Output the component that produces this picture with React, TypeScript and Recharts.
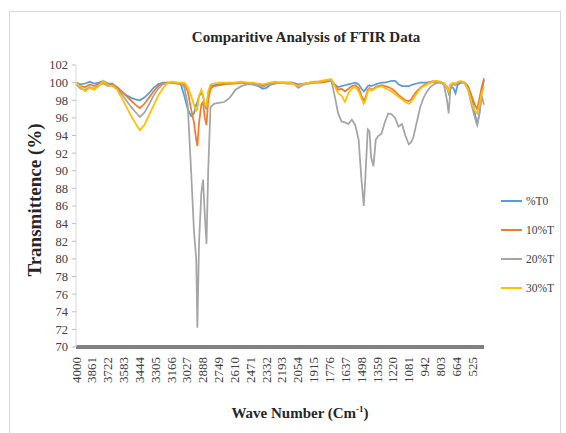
import React from 'react';
import { LineChart, Line, XAxis, YAxis, Legend } from 'recharts';

// Wavenumbers (cm^-1), descending
const wavenumbers = [
  4000, 3960, 3920, 3880, 3840, 3800, 3760, 3720,
  3680, 3640, 3600, 3560, 3520, 3480, 3440, 3400,
  3360, 3320, 3280, 3240, 3200, 3160, 3120, 3080,
  3050, 3020, 2990, 2965, 2945, 2935, 2920, 2900,
  2885, 2870, 2855, 2840, 2820, 2790, 2750, 2700,
  2650, 2600, 2550, 2500, 2450, 2400, 2360, 2330,
  2300, 2250, 2200, 2150, 2100, 2050, 2000, 1950,
  1900, 1850, 1800, 1760, 1730, 1700, 1670, 1640,
  1610, 1580, 1550, 1520, 1495, 1475, 1460, 1440,
  1425, 1410, 1390, 1370, 1350, 1320, 1290, 1260,
  1230, 1200, 1170, 1140, 1110, 1080, 1060, 1040,
  1010, 980, 950, 920, 890, 860, 830, 800,
  770, 745, 730, 715, 690, 670, 650, 620,
  590, 560, 530, 500, 480, 460, 440, 420,
];

const t0 = [
  100, 99.8, 99.9, 100.1, 99.9, 100, 100.2, 99.9,
  99.9, 99.4, 99.0, 98.6, 98.3, 98.1, 98.0, 98.3,
  98.8, 99.4, 99.8, 100, 100, 100, 100, 99.8,
  98.5, 97, 96.2, 96.5, 97.5, 97.8, 98.5, 98.8,
  98.5, 97.5, 97, 98.8, 99.6, 99.7, 99.8, 99.9,
  99.9, 100, 100, 99.9, 99.8, 99.6, 99.3, 99.4,
  99.7, 99.9, 100, 100, 100, 99.8, 99.9, 100,
  100, 100.1, 100.2, 100.3, 99.8, 99.5, 99.6, 99.7,
  99.8, 99.9, 100, 99.8, 99.3, 99.0, 99.2, 99.6,
  99.7, 99.6, 99.7, 99.8, 99.9, 100, 100, 100.1,
  100.2, 100.2, 99.8, 99.6, 99.6, 99.6, 99.7, 99.8,
  99.9, 100, 100, 100, 100.1, 100.2, 100.1, 100,
  99.8, 99.4, 98.8, 99.6, 99.4, 98.8, 99.8, 100,
  100, 99.6, 98.5, 96.5, 95.2, 96.5, 99.0, 100.3,
];

const t10 = [
  100, 99.6, 99.5, 99.8, 99.6, 99.9, 100.1, 99.8,
  99.8, 99.5, 99.0, 98.5, 98.0, 97.5, 97.1, 97.6,
  98.3, 99.0, 99.6, 99.9, 100, 100, 99.9, 99.9,
  99.8, 99, 97, 95.5, 93.5, 92.8, 95.5, 97.5,
  97.8, 96, 95.2, 98, 99.3, 99.6, 99.7, 99.8,
  99.9, 99.9, 100, 100, 99.9, 99.8, 99.7, 99.8,
  99.9, 100, 100, 99.9, 99.9, 99.6, 99.8, 99.9,
  100, 100, 100.1, 100.2, 99.7, 99.2, 99.3, 99.0,
  99.3, 99.6, 99.7, 99.4, 98.5, 98.0, 98.3, 99.2,
  99.4, 99.2, 99.3, 99.5, 99.6, 99.7, 99.6, 99.5,
  99.3, 99.0, 98.6, 98.3, 98.0, 97.9, 98.1, 98.5,
  99.0, 99.4, 99.7, 99.9, 100, 100.1, 100, 100,
  99.9, 99.5, 99.2, 99.7, 99.9, 99.8, 100, 100.1,
  100, 99.5, 98.5, 97.5, 97.0, 98.2, 99.5, 100.5,
];

const t20 = [
  99.8, 99.3, 99.2, 99.5, 99.3, 99.7, 99.9, 99.6,
  99.7, 99.3, 98.7, 98.0, 97.3, 96.7, 96.1, 96.6,
  97.5, 98.5, 99.3, 99.8, 99.9, 100, 100, 99.9,
  99.5, 97.5, 90, 83.2, 80, 72.2, 82, 87.5,
  89, 85, 81.7, 90, 97.2, 97.6, 97.7, 97.8,
  98.3, 99.2, 99.6, 99.8, 99.8, 99.7, 99.5, 99.7,
  99.8, 99.9, 100, 100, 100, 99.4, 99.8, 100,
  100.1, 100.1, 100.3, 100.2, 98.5, 96.5, 95.6, 95.5,
  95.3, 95.8, 95.2, 93.5, 89, 86.0, 89.5, 94.7,
  94.5, 91.5, 90.5, 93.5, 93.9, 94.2, 95.5, 96.5,
  96.4, 96.0, 95.0, 95.3, 94.0, 93.0, 93.2, 93.8,
  95.5, 97.2, 98.3, 99.0, 99.5, 99.8, 100, 100.1,
  99.7, 98, 96.5, 99.2, 99.9, 99.7, 100, 100.1,
  99.9, 99.2, 97.5, 96.0, 95.2, 96.5, 98.5, 97.5,
];

const t30 = [
  100, 99.5, 99.0, 99.4, 99.2, 99.6, 100.2, 99.7,
  99.6, 99.2, 98.3, 97.3, 96.3, 95.4, 94.6, 95.2,
  96.3, 97.4, 98.5, 99.3, 99.9, 100.1, 100, 100,
  100, 99.5, 98.5, 97.5, 96.8, 97, 98.5, 99.2,
  98.5, 97.5, 97.3, 99, 99.8, 99.9, 100, 100,
  100, 100, 100.1, 100, 100, 99.9, 99.8, 99.9,
  100, 100.1, 100, 100, 99.9, 99.6, 99.9, 100,
  100, 100.2, 100.3, 100.4, 99.6, 98.8, 98.5, 97.8,
  98.8, 99.3, 99.5, 99.0, 98.2, 97.6, 98.0, 99.0,
  99.3, 99.1, 99.2, 99.4, 99.5, 99.6, 99.4, 99.2,
  99.0, 98.7, 98.4, 98.1, 97.8, 97.6, 97.8, 98.2,
  98.8, 99.3, 99.6, 99.8, 100, 100.2, 100.2, 100.1,
  99.9, 99.4, 99.0, 99.8, 100, 99.9, 100.1, 100.2,
  100, 99.2, 97.8, 96.8, 96.5, 97.5, 98.8, 99.5,
];

const xTicks = [
  4000, 3861, 3722, 3583, 3444, 3305, 3166, 3027, 2888, 2749, 2610, 2471, 2332,
  2193, 2054, 1915, 1776, 1637, 1498, 1359, 1220, 1081, 942, 803, 664, 525,
];
const yTicks = [70, 72, 74, 76, 78, 80, 82, 84, 86, 88, 90, 92, 94, 96, 98, 100, 102];

const seriesKeys = ['t0', 't10', 't20', 't30'];
const seriesNames = ['%T0', '10%T', '20%T', '30%T'];
const seriesColors = ['#5B9BD5', '#ED7D31', '#A5A5A5', '#FFC000'];

const data = wavenumbers.map((wn, i) => ({
  wn,
  t0: t0[i],
  t10: t10[i],
  t20: t20[i],
  t30: t30[i],
}));

const SERIF = '"Liberation Serif", "Times New Roman", serif';
const TICK_COLOR = '#404040';

const XTick = (props: any) => {
  const { x, y, payload } = props;
  return (
    <text
      x={x}
      y={y}
      transform={`rotate(-90, ${x}, ${y})`}
      textAnchor="end"
      dy="0.35em"
      fontSize={13}
      fill={TICK_COLOR}
      fontFamily={SERIF}
    >
      {payload.value}
    </text>
  );
};

const LegendContent = () => (
  <div style={{ width: 60 }}>
    {seriesNames.map((name, i) => (
      <div key={name} style={{ height: 29, display: 'flex', alignItems: 'center' }}>
        <svg width={25} height={6} style={{ display: 'block' }}>
          <line x1={0} y1={3} x2={21} y2={3} stroke={seriesColors[i]} strokeWidth={2} />
        </svg>
        <span style={{ fontFamily: SERIF, fontSize: 11.5, color: TICK_COLOR, lineHeight: '12px' }}>{name}</span>
      </div>
    ))}
  </div>
);

export default function App() {
  return (
    <div style={{ position: 'absolute', left: 0, top: 0, width: 566, height: 433, background: '#fff' }}>
      <LineChart
        width={566}
        height={433}
        data={data}
        margin={{ top: 65, right: 82, bottom: 46, left: 0 }}
      >
        <XAxis
          dataKey="wn"
          type="number"
          domain={[420, 4000]}
          reversed
          ticks={xTicks}
          interval={0}
          tick={<XTick />}
          tickLine={false}
          tickSize={6}
          tickMargin={4}
          height={40}
          axisLine={{ stroke: '#808080', strokeWidth: 4 }}
        />
        <YAxis
          type="number"
          domain={[70, 102]}
          ticks={yTicks}
          interval={0}
          width={76}
          tickSize={4}
          tickMargin={4}
          tickLine={{ stroke: '#bfbfbf' }}
          axisLine={{ stroke: '#d9d9d9' }}
          tick={{ fontSize: 12.5, fill: TICK_COLOR, fontFamily: SERIF }}
        />
        <Legend
          layout="horizontal"
          verticalAlign="middle"
          align="center"
          content={<LegendContent />}
          wrapperStyle={{ position: 'absolute', left: 501, top: 186, width: 60, height: 116 }}
        />
        {seriesKeys.map((k, i) => (
          <Line
            key={k}
            dataKey={k}
            name={seriesNames[i]}
            type="linear"
            stroke={seriesColors[i]}
            strokeWidth={1.75}
            dot={false}
            isAnimationActive={false}
          />
        ))}
      </LineChart>
      <svg
        width={566}
        height={433}
        style={{ position: 'absolute', left: 0, top: 0, pointerEvents: 'none' }}
      >
        <rect x={9.5} y={11.5} width={551} height={430} fill="none" stroke="#d9d9d9" />
        <text x={306} y={42} textAnchor="middle" fontFamily={SERIF} fontWeight="bold" fontSize={15} fill="#262626">
          Comparitive Analysis of FTIR Data
        </text>
        <text
          x={34}
          y={200}
          transform="rotate(-90, 34, 200)"
          textAnchor="middle"
          dy="0.35em"
          fontFamily={SERIF}
          fontWeight="bold"
          fontSize={19}
          fill="#262626"
        >
          Transmittence (%)
        </text>
        <text x={300} y={418} textAnchor="middle" fontFamily={SERIF} fontWeight="bold" fontSize={15} fill="#262626">
          Wave Number (Cm
          <tspan dy={-6} fontSize={9}>-1</tspan>
          <tspan dy={6}>)</tspan>
        </text>
      </svg>
    </div>
  );
}
